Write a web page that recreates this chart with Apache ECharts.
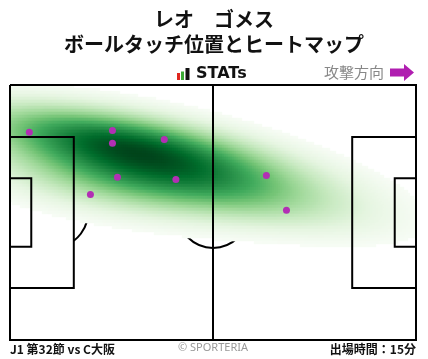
<!DOCTYPE html>
<html><head><meta charset="utf-8">
<script src="https://cdn.jsdelivr.net/npm/echarts@6/dist/echarts.min.js"></script>
<style>html,body{margin:0;padding:0;background:#fff}#c{width:428px;height:359px}</style>
</head><body><div id="c"></div>
<script>
const PLAYER = 'レオ　ゴメス';
const SUBTITLE = 'ボールタッチ位置とヒートマップ';
const MATCH = 'J1 第32節 vs C大阪';
const MINUTES = '出場時間：15分';
const BRAND = 'STATs';
const DIRECTION = '攻撃方向';
const COPY = '© SPORTERIA';
// ball-touch positions in metres (x: 0..105 towards attack, y: 0..68 from top touchline)
const touchX = [5.0, 26.5, 26.5, 39.9, 27.8, 42.9, 20.8, 66.3, 71.5];
const touchY = [12.6, 12.1, 15.5, 14.5, 24.6, 25.2, 29.2, 24.1, 33.4];

const PITCH_W = 105, PITCH_H = 68;
const NX = 203, NY = 85;          // density grid resolution
const BW_X = 1.75, BW_Y = 1.42;   // Scott bandwidth multipliers per axis
const THRESH = 0.05;              // mass proportion left unshaded (iso-proportion levels)
const GREENS = ['#f7fcf5','#e5f5e0','#c7e9c0','#a1d99b','#74c476','#41ab5d','#238b45','#006d2c','#00441b'];

// Gaussian KDE (scipy-style: data covariance * Scott factor^2), coloured by iso-proportion of mass
function kdeGrid() {
  const n = touchX.length;
  const mx = touchX.reduce((a,b)=>a+b,0)/n, my = touchY.reduce((a,b)=>a+b,0)/n;
  let sxx=0, syy=0, sxy=0;
  for (let i=0;i<n;i++){ const dx=touchX[i]-mx, dy=touchY[i]-my; sxx+=dx*dx; syy+=dy*dy; sxy+=dx*dy; }
  sxx/=(n-1); syy/=(n-1); sxy/=(n-1);
  const f = Math.pow(n, -1/6);
  const fx = f*BW_X, fy = f*BW_Y;
  const a = sxx*fx*fx, b = sxy*fx*fy, d = syy*fy*fy;
  const det = a*d - b*b;
  const ia = d/det, ib = -b/det, id = a/det;
  const cells = [];
  for (let j=0;j<NY;j++){
    const y = (j+0.5)*PITCH_H/NY;
    for (let i=0;i<NX;i++){
      const x = (i+0.5)*PITCH_W/NX;
      let s = 0;
      for (let k=0;k<n;k++){
        const dx = x-touchX[k], dy = y-touchY[k];
        s += Math.exp(-0.5*(ia*dx*dx + 2*ib*dx*dy + id*dy*dy));
      }
      cells.push([i,j,s,0]);
    }
  }
  const sorted = cells.slice().sort((p,q)=>p[2]-q[2]);
  const total = sorted.reduce((acc,c)=>acc+c[2],0);
  let cum = 0;
  for (const c of sorted){ cum += c[2]; c[3] = cum/total; }
  return cells.filter(c=>c[3]>=THRESH);
}
const cells = kdeGrid();

const PA_Y1 = 34-20.16, PA_Y2 = 34+20.16, GA_Y1 = 34-9.16, GA_Y2 = 34+9.16;
const pitchLines = [
  [[0,0],[105,0],[105,68],[0,68],[0,0]],
  [[52.5,0],[52.5,68]],
  [[0,PA_Y1],[16.5,PA_Y1],[16.5,PA_Y2],[0,PA_Y2]],
  [[0,GA_Y1],[5.5,GA_Y1],[5.5,GA_Y2],[0,GA_Y2]],
  [[105,PA_Y1],[88.5,PA_Y1],[88.5,PA_Y2],[105,PA_Y2]],
  [[105,GA_Y1],[99.5,GA_Y1],[99.5,GA_Y2],[105,GA_Y2]]
];

const chart = echarts.init(document.getElementById('c'), null, {renderer:'canvas'});
const GRID = {left:10, top:85, width:406, height:255};
const cjk = '"Noto Sans CJK JP", sans-serif';
chart.setOption({
  animation:false,
  grid:[Object.assign({}, GRID), Object.assign({}, GRID)],
  xAxis:[
    {type:'category', gridIndex:0, data:Array.from({length:NX},(_,i)=>i), show:false},
    {type:'value', gridIndex:1, min:0, max:PITCH_W, show:false}
  ],
  yAxis:[
    {type:'category', gridIndex:0, data:Array.from({length:NY},(_,i)=>i), inverse:true, show:false},
    {type:'value', gridIndex:1, min:0, max:PITCH_H, inverse:true, show:false}
  ],
  visualMap:{type:'continuous', show:false, seriesIndex:1, dimension:3,
    min:THRESH, max:1, inRange:{color:GREENS}},
  series:[
    {type:'custom', xAxisIndex:1, yAxisIndex:1, z:1, silent:true, data:[[52.5,34,0],[11,34,1],[94,34,2]],
      renderItem:function(params, api){
        const c = api.coord([api.value(0), api.value(1)]);
        const r = api.size([9.15,0])[0];
        const kind = api.value(2);
        const st = {fill:null, stroke:'#000', lineWidth:2};
        if (kind===0) return {type:'circle', shape:{cx:c[0],cy:c[1],r:r}, style:st};
        const t = Math.acos(5.5/9.15);
        if (kind===1) return {type:'arc', shape:{cx:c[0],cy:c[1],r:r,startAngle:-t,endAngle:t,clockwise:true}, style:st};
        return {type:'arc', shape:{cx:c[0],cy:c[1],r:r,startAngle:Math.PI-t,endAngle:Math.PI+t,clockwise:true}, style:st};
      }},
    {type:'heatmap', xAxisIndex:0, yAxisIndex:0, z:2, data:cells, progressive:0, silent:true,
      encode:{x:0, y:1, value:3}, itemStyle:{borderWidth:0}, emphasis:{disabled:true}},
    {type:'lines', coordinateSystem:'cartesian2d', xAxisIndex:1, yAxisIndex:1, polyline:true, z:3, silent:true,
      lineStyle:{color:'#000', width:2, opacity:1},
      data:pitchLines.map(c=>({coords:c}))},
    {type:'scatter', xAxisIndex:1, yAxisIndex:1, z:4, symbolSize:7, silent:true,
      itemStyle:{color:'#b22fb4', opacity:1},
      data:touchX.map((x,i)=>[x,touchY[i]])}
  ],
  graphic:[
    {type:'text', left:'center', top:9, style:{text:PLAYER, font:'bold 20px '+cjk, fill:'#111'}},
    {type:'text', left:'center', top:34, style:{text:SUBTITLE, font:'bold 20px '+cjk, fill:'#111'}},
    {type:'rect', shape:{x:177,y:73,width:3,height:7}, style:{fill:'#e0261f'}},
    {type:'rect', shape:{x:181,y:71.5,width:3,height:8.5}, style:{fill:'#3aaa35'}},
    {type:'rect', shape:{x:185.5,y:68,width:4,height:12}, style:{fill:'#111'}},
    {type:'text', x:196, y:74, style:{text:BRAND, font:'bold 16px "DejaVu Sans"', fill:'#111', verticalAlign:'middle'}},
    {type:'text', x:384, y:72.5, style:{text:DIRECTION, font:'15px '+cjk, fill:'#888', align:'right', verticalAlign:'middle'}},
    {type:'polygon', shape:{points:[[390,68.5],[404,68.5],[404,64],[414,72.5],[404,81],[404,76.5],[390,76.5]]}, style:{fill:'#b01eb0'}},
    {type:'text', x:10, y:349, style:{text:MATCH, font:'bold 12px '+cjk, fill:'#111', verticalAlign:'middle'}},
    {type:'text', x:213, y:348, style:{text:COPY, font:'11px "Noto Sans", sans-serif', fill:'#999', align:'center', verticalAlign:'middle'}},
    {type:'text', x:416, y:349, style:{text:MINUTES, font:'bold 12px '+cjk, fill:'#111', align:'right', verticalAlign:'middle'}}
  ]
});
</script></body></html>
